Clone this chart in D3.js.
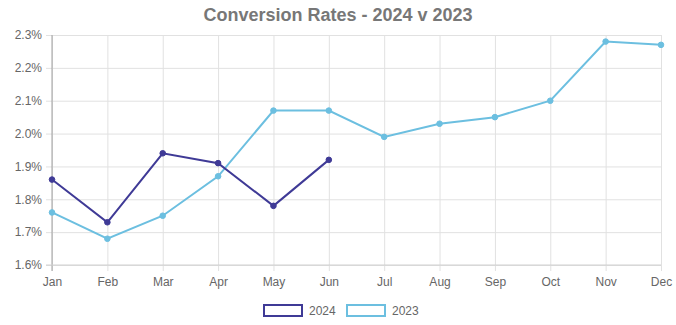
<!DOCTYPE html>
<html>
<head>
<meta charset="utf-8">
<script src="https://cdn.jsdelivr.net/npm/d3@7/dist/d3.min.js"></script>
<style>
  html, body { margin: 0; padding: 0; background: #fff; }
  svg { display: block; font-family: "Liberation Sans", Arial, Helvetica, sans-serif; }
</style>
</head>
<body>
<svg id="chart" width="676" height="325"></svg>
<script>
// Monthly conversion rates (%)
const months = ["Jan", "Feb", "Mar", "Apr", "May", "Jun", "Jul", "Aug", "Sep", "Oct", "Nov", "Dec"];
const rates2024 = [1.86, 1.73, 1.94, 1.91, 1.78, 1.92];
const rates2023 = [1.76, 1.68, 1.75, 1.87, 2.07, 2.07, 1.99, 2.03, 2.05, 2.10, 2.28, 2.27];
const yTicks = [1.6, 1.7, 1.8, 1.9, 2.0, 2.1, 2.2, 2.3];
const seriesNames = ["2024", "2023"];
const seriesColors = ["#3f3a96", "#6cbfe0"];

const svg = d3.select("#chart");
const margin = { top: 35, right: 15, bottom: 60, left: 52 };
const W = 676, H = 325;

const x = d3.scalePoint().domain(months).range([margin.left, W - margin.right]);
const y = d3.scaleLinear().domain([1.6, 2.3]).range([H - margin.bottom, margin.top]);

// Title
svg.append("text")
  .attr("x", W / 2).attr("y", 21)
  .attr("text-anchor", "middle")
  .attr("font-size", 18).attr("font-weight", "bold")
  .attr("fill", "#777")
  .text("Conversion Rates - 2024 v 2023");

// Horizontal grid + y labels
const yAxis = d3.axisLeft(y).tickValues(yTicks)
  .tickFormat(d => d.toFixed(1) + "%")
  .tickSize(-(W - margin.right - margin.left)).tickPadding(10);
const gy = svg.append("g").attr("transform", `translate(${margin.left},0)`).call(yAxis);
gy.select(".domain").remove();
gy.selectAll(".tick line").attr("stroke", "#e1e1e1").attr("x1", -6);
gy.selectAll(".tick text").attr("fill", "#666").attr("font-size", 12);

// Vertical grid + x labels
const xAxis = d3.axisBottom(x).tickSize(-(H - margin.bottom - margin.top)).tickPadding(12);
const gx = svg.append("g").attr("transform", `translate(0,${H - margin.bottom})`).call(xAxis);
gx.select(".domain").remove();
gx.selectAll(".tick line").attr("stroke", "#e1e1e1").attr("y1", 6);
gx.selectAll(".tick text").attr("fill", "#666").attr("font-size", 12);

// Axis lines
svg.append("line")
  .attr("x1", margin.left).attr("x2", margin.left)
  .attr("y1", margin.top).attr("y2", H - margin.bottom + 6)
  .attr("stroke", "#a0a0a0");
svg.append("line")
  .attr("x1", margin.left - 6).attr("x2", W - margin.right)
  .attr("y1", H - margin.bottom).attr("y2", H - margin.bottom)
  .attr("stroke", "#d0d0d0");

// Lines and points
const line = d3.line().x((d, i) => x(months[i])).y(d => y(d));
[rates2023, rates2024].forEach((vals, k) => {
  const color = k === 0 ? seriesColors[1] : seriesColors[0];
  svg.append("path").datum(vals)
    .attr("fill", "none").attr("stroke", color)
    .attr("stroke-width", 2).attr("d", line);
  svg.append("g").selectAll("circle").data(vals).join("circle")
    .attr("cx", (d, i) => x(months[i])).attr("cy", d => y(d))
    .attr("r", 2.8).attr("fill", color)
    .attr("stroke", color).attr("stroke-width", 1);
});

// Legend
const legendItems = [
  { name: seriesNames[0], color: seriesColors[0], x: 263 },
  { name: seriesNames[1], color: seriesColors[1], x: 346 }
];
const lg = svg.append("g");
legendItems.forEach(it => {
  lg.append("rect")
    .attr("x", it.x + 1).attr("y", 305)
    .attr("width", 38).attr("height", 11)
    .attr("fill", "#fff").attr("stroke", it.color).attr("stroke-width", 2);
  lg.append("text")
    .attr("x", it.x + 46).attr("y", 315)
    .attr("font-size", 12).attr("fill", "#666")
    .text(it.name);
});
</script>
</body>
</html>
